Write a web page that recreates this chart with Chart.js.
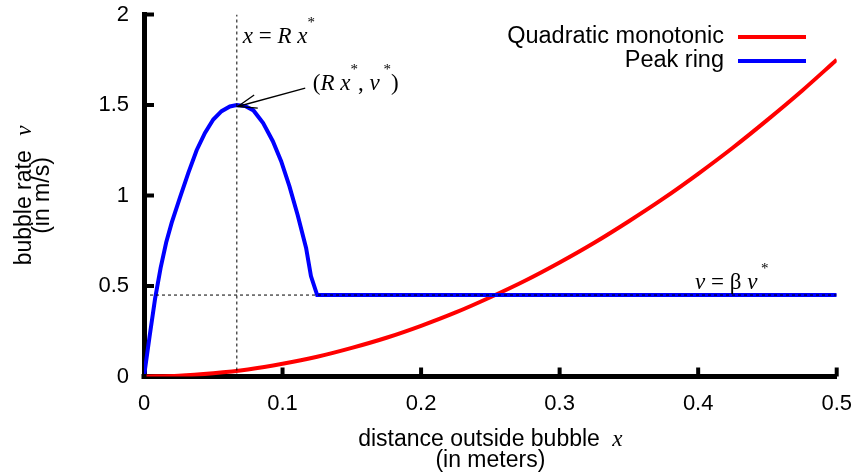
<!DOCTYPE html>
<html><head><meta charset="utf-8">
<script src="https://cdn.jsdelivr.net/npm/chart.js@4.4.0/dist/chart.umd.min.js"></script>
<style>html,body{margin:0;padding:0;background:#fff}#wrap{width:858px;height:476px}</style>
</head><body><div id="wrap"><canvas id="c" width="858" height="476"></canvas></div>
<script>
// ---- data ----
const quadX = [0,0.025,0.05,0.075,0.1,0.125,0.15,0.175,0.2,0.225,0.25,0.275,0.3,0.325,0.35,0.375,0.4,0.425,0.45,0.475,0.5];
const quadY = [0,0.004,0.018,0.039,0.07,0.109,0.158,0.214,0.28,0.354,0.438,0.529,0.63,0.739,0.858,0.984,1.12,1.264,1.418,1.579,1.75];
const peakX = [0,0.004,0.008,0.012,0.016,0.020,0.026,0.032,0.038,0.044,0.050,0.056,0.062,0.067,0.073,0.079,0.086,0.093,0.099,0.105,0.111,0.117,0.1205,0.125,0.5];
const peakY = [0,0.22,0.43,0.60,0.74,0.85,0.99,1.125,1.25,1.346,1.42,1.466,1.492,1.5,1.494,1.47,1.40,1.30,1.19,1.05,0.89,0.71,0.555,0.45,0.45];
const xStar = 0.067;   // R x*
const vStar = 1.5;     // v*
const betaV = 0.45;    // beta v*
const xTickValues = [0,0.1,0.2,0.3,0.4,0.5];
const xTickLabels = ['0','0.1','0.2','0.3','0.4','0.5'];
const yTickValues = [0,0.5,1,1.5,2];
const yTickLabels = ['0','0.5','1','1.5','2'];
const seriesNames = ['Quadratic monotonic','Peak ring'];
const seriesColors = ['#ff0000','#0000ff'];

const SANS = '"Liberation Sans", Arial, sans-serif';
const SERIF = '"Liberation Serif", "Times New Roman", serif';

function toPts(xs, ys){ return xs.map((v,i)=>({x:v, y:ys[i]})); }

function drawRich(ctx, parts, x, y){
  let cx = x;
  parts.forEach(p=>{
    ctx.font = p.f;
    ctx.fillText(p.t, cx, y + (p.dy||0));
    cx += ctx.measureText(p.t).width + (p.gap||0);
  });
}
function richWidth(ctx, parts){
  let w = 0;
  parts.forEach(p=>{ ctx.font = p.f; w += ctx.measureText(p.t).width + (p.gap||0); });
  return w;
}

const deco = {
  id:'deco',
  afterDraw(chart){
    const {ctx, chartArea:ca, scales:{x, y}} = chart;
    ctx.save();
    // axis corner
    ctx.fillStyle = '#000';
    ctx.fillRect(ca.left-2.5, ca.bottom-2.5, 5, 5);
    // inward ticks
    ctx.strokeStyle = '#000'; ctx.lineWidth = 4; ctx.lineCap = 'butt';
    yTickValues.forEach(v=>{ if(v===0) return; const py = y.getPixelForValue(v);
      ctx.beginPath(); ctx.moveTo(ca.left, py); ctx.lineTo(ca.left+10, py); ctx.stroke(); });
    xTickValues.forEach(v=>{ if(v===0) return; const px = x.getPixelForValue(v);
      ctx.beginPath(); ctx.moveTo(px, ca.bottom); ctx.lineTo(px, ca.bottom-9); ctx.stroke(); });

    // legend
    ctx.textAlign = 'right'; ctx.textBaseline = 'middle'; ctx.fillStyle = '#000';
    ctx.font = '23.5px ' + SANS;
    seriesNames.forEach((n,i)=>{
      const yy = 37 + i*24;
      ctx.fillStyle = '#000';
      ctx.fillText(n, 724, yy);
      ctx.strokeStyle = seriesColors[i]; ctx.lineWidth = 4;
      ctx.beginPath(); ctx.moveTo(738, yy); ctx.lineTo(806, yy); ctx.stroke();
    });

    // annotations
    ctx.textAlign = 'left'; ctx.textBaseline = 'alphabetic'; ctx.fillStyle = '#000';
    const it = 'italic 23px ' + SERIF, up = '23px ' + SERIF, st = '15px ' + SERIF;
    const px0 = x.getPixelForValue(xStar), py0 = y.getPixelForValue(vStar);
    drawRich(ctx, [{t:'x', f:it},{t:' = ', f:up},{t:'R x', f:it},{t:'*', f:st, dy:-16}], px0+6, 43);
    drawRich(ctx, [{t:'(', f:up},{t:'R x', f:it},{t:'*', f:st, dy:-16},{t:', ', f:up},{t:'\u03bd', f:it},{t:' *', f:st, dy:-16},{t:')', f:up}], px0+76, 90);
    const pyb = y.getPixelForValue(betaV);
    drawRich(ctx, [{t:'\u03bd', f:it},{t:' = ', f:up},{t:'\u03b2', f:up},{t:' ', f:up},{t:'\u03bd', f:it},{t:' *', f:st, dy:-16}], 695, pyb-6);

    // arrow
    const tx = px0+1, ty = py0+1.5;
    const ex = tx+67.4, ey = ty-18.4;
    ctx.strokeStyle = '#000'; ctx.lineWidth = 1.3;
    ctx.beginPath(); ctx.moveTo(ex, ey); ctx.lineTo(tx, ty); ctx.stroke();
    const ang = Math.atan2(ey-ty, ex-tx), hl = 20, ha = 20*Math.PI/180;
    ctx.beginPath();
    ctx.moveTo(tx + hl*Math.cos(ang-ha), ty + hl*Math.sin(ang-ha));
    ctx.lineTo(tx, ty);
    ctx.lineTo(tx + hl*Math.cos(ang+ha), ty + hl*Math.sin(ang+ha));
    ctx.stroke();

    // x axis title
    const cxm = (ca.left + ca.right)/2;
    const xt1 = [{t:'distance outside bubble ', f:'23px '+SANS, gap:6},{t:'x', f:'italic 23px '+SERIF}];
    drawRich(ctx, xt1, cxm - richWidth(ctx, xt1)/2, 446);
    const xt2 = [{t:'(in meters)', f:'23px '+SANS}];
    drawRich(ctx, xt2, cxm - richWidth(ctx, xt2)/2, 467);

    // y axis title
    const cym = (ca.top + ca.bottom)/2;
    const yt1 = [{t:'bubble rate ', f:'23px '+SANS, gap:8},{t:'\u03bd', f:'italic 23px '+SERIF}];
    ctx.save(); ctx.translate(31, cym); ctx.rotate(-Math.PI/2);
    drawRich(ctx, yt1, -richWidth(ctx, yt1)/2, 0); ctx.restore();
    const yt2 = [{t:'(in m/s)', f:'23px '+SANS}];
    ctx.save(); ctx.translate(49, cym); ctx.rotate(-Math.PI/2);
    drawRich(ctx, yt2, -richWidth(ctx, yt2)/2, 0); ctx.restore();

    ctx.restore();
  }
};

new Chart(document.getElementById('c').getContext('2d'), {
  type:'line',
  data:{datasets:[
    {label:'x = R x*', data:[{x:xStar,y:0},{x:xStar,y:2}], borderColor:'#000', borderWidth:1, borderDash:[3,3], pointRadius:0, order:0},
    {label:'v = beta v*', data:[{x:0,y:betaV},{x:0.5,y:betaV}], borderColor:'#000', borderWidth:1, borderDash:[3,3], pointRadius:0, order:0},
    {label:seriesNames[1], data:toPts(peakX, peakY), borderColor:seriesColors[1], borderWidth:4, pointRadius:0, tension:0, order:1},
    {label:seriesNames[0], data:toPts(quadX, quadY), borderColor:seriesColors[0], borderWidth:4, pointRadius:0, cubicInterpolationMode:'monotone', order:2}
  ]},
  options:{
    responsive:false, animation:false,
    layout:{padding:{left:0, right:19, top:14.5, bottom:0}},
    plugins:{legend:{display:false}, tooltip:{enabled:false}},
    scales:{
      x:{type:'linear', min:0, max:0.5,
        afterBuildTicks:(s)=>{ s.ticks = xTickValues.map(v=>({value:v})); },
        ticks:{padding:6, color:'#000', font:{family:SANS, size:22}, maxRotation:0,
          callback:(v,i)=>xTickLabels[i]},
        grid:{display:false}, border:{display:true, color:'#000', width:5},
        afterFit:(s)=>{ s.height = 99.5; }},
      y:{type:'linear', min:0, max:2,
        afterBuildTicks:(s)=>{ s.ticks = yTickValues.map(v=>({value:v})); },
        ticks:{padding:7, color:'#000', font:{family:SANS, size:22},
          callback:(v,i)=>yTickLabels[i]},
        grid:{display:false}, border:{display:true, color:'#000', width:5},
        afterFit:(s)=>{ s.width = 144; s.paddingTop = 0; s.paddingBottom = 0; }}
    }
  },
  plugins:[deco]
});
</script></body></html>
